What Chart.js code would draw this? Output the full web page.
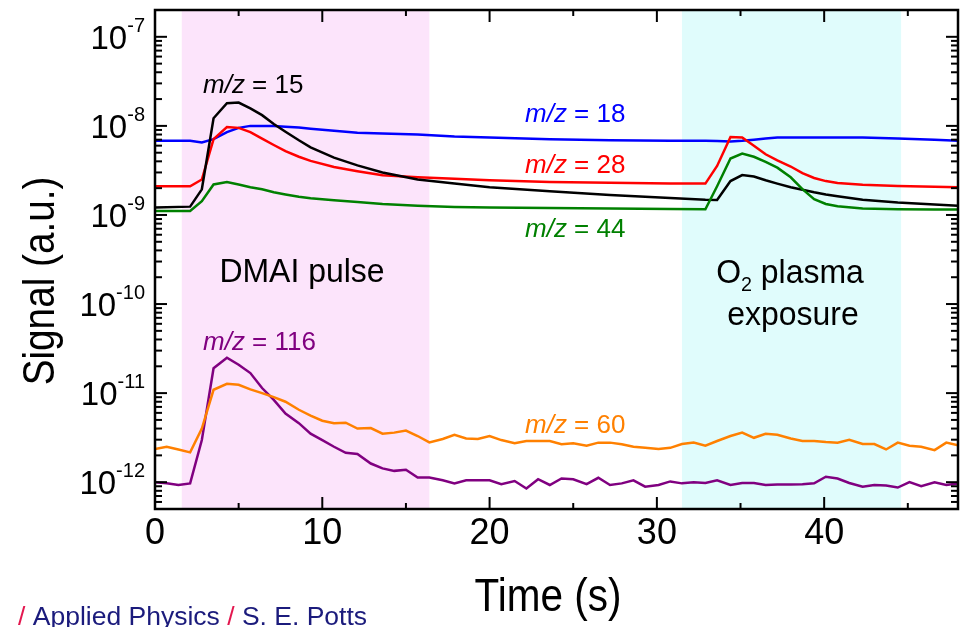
<!DOCTYPE html>
<html>
<head>
<meta charset="utf-8">
<script src="https://cdn.jsdelivr.net/npm/chart.js@4"></script>
<style>
  html, body { margin: 0; padding: 0; background: #fff; }
  canvas { display: block; }
</style>
</head>
<body>
<canvas id="myChart" width="970" height="627"></canvas>
<script>
// sampling grid of the QMS (about 0.72 s per scan)
const timeFast = [0, 0.7, 1.4, 2.1, 2.8, 3.5, 4.3, 5.0, 5.7, 6.4, 7.1, 7.8, 8.6, 9.3, 10.0, 10.7, 11.4, 12.1, 12.9, 13.6,
  14.3, 15.0, 15.7, 16.4, 17.2, 17.9, 18.6, 19.3, 20.0, 20.7, 21.5, 22.2, 22.9, 23.6, 24.3, 25.0, 25.8, 26.5, 27.2, 27.9,
  28.6, 29.3, 30.1, 30.8, 31.5, 32.2, 32.9, 33.6, 34.4, 35.1, 35.8, 36.5, 37.2, 38.0, 38.7, 39.4, 40.1, 40.8, 41.5, 42.3,
  43.0, 43.7, 44.4, 45.1, 45.8, 46.6, 47.3, 48.0];
const timeSlow = [0, 2.1, 2.8, 3.5, 4.3, 5.0, 5.7, 6.4, 7.1, 7.8, 8.6, 9.3, 10.7, 12.1, 13.6, 15.7, 17.9, 20.0, 23.6, 27.2,
  30.8, 32.9, 33.6, 34.4, 35.1, 35.8, 36.5, 37.2, 38.0, 38.7, 39.4, 40.1, 40.8, 42.3, 44.4, 46.6, 48.0];

const mz15 = [1.21e-9, 1.24e-9, 1.94e-9, 1.22e-8, 1.8e-8, 1.83e-8, 1.57e-8, 1.32e-8, 1.05e-8, 8.6e-9, 6.9e-9, 5.75e-9,
  4.4e-9, 3.6e-9, 3.0e-9, 2.5e-9, 2.25e-9, 2.05e-9, 1.85e-9, 1.68e-9, 1.55e-9, 1.48e-9, 1.47e-9, 2.4e-9, 2.8e-9, 2.7e-9,
  2.45e-9, 2.25e-9, 2.05e-9, 1.92e-9, 1.8e-9, 1.7e-9, 1.62e-9, 1.48e-9, 1.38e-9, 1.31e-9, 1.27e-9];
const mz18 = [6.8e-9, 6.8e-9, 6.5e-9, 7.1e-9, 8.5e-9, 9.5e-9, 1.0e-8, 1.0e-8, 1.0e-8, 9.8e-9, 9.6e-9, 9.3e-9, 8.8e-9,
  8.4e-9, 8.2e-9, 8.0e-9, 7.6e-9, 7.4e-9, 7.1e-9, 6.9e-9, 6.8e-9, 6.8e-9, 6.75e-9, 6.7e-9, 6.8e-9, 7.0e-9, 7.2e-9,
  7.4e-9, 7.4e-9, 7.4e-9, 7.4e-9, 7.4e-9, 7.4e-9, 7.4e-9, 7.2e-9, 7.0e-9, 6.8e-9];
const mz28 = [2.1e-9, 2.1e-9, 2.5e-9, 7.1e-9, 9.7e-9, 9.5e-9, 8.5e-9, 7.2e-9, 6.1e-9, 5.2e-9, 4.5e-9, 4.05e-9, 3.45e-9,
  3.1e-9, 2.8e-9, 2.65e-9, 2.55e-9, 2.45e-9, 2.35e-9, 2.3e-9, 2.25e-9, 2.25e-9, 3.55e-9, 7.5e-9, 7.4e-9, 6.0e-9, 4.8e-9,
  4.1e-9, 3.5e-9, 2.95e-9, 2.6e-9, 2.4e-9, 2.28e-9, 2.18e-9, 2.12e-9, 2.08e-9, 2.05e-9];
const mz44 = [1.11e-9, 1.11e-9, 1.43e-9, 2.2e-9, 2.35e-9, 2.2e-9, 2.05e-9, 1.94e-9, 1.8e-9, 1.7e-9, 1.6e-9, 1.54e-9,
  1.46e-9, 1.4e-9, 1.33e-9, 1.27e-9, 1.23e-9, 1.21e-9, 1.2e-9, 1.18e-9, 1.17e-9, 1.16e-9, 2.1e-9, 4.3e-9, 4.9e-9, 4.5e-9,
  3.95e-9, 3.4e-9, 2.65e-9, 1.95e-9, 1.5e-9, 1.33e-9, 1.25e-9, 1.18e-9, 1.16e-9, 1.15e-9, 1.15e-9];
const mz116 = [1.0e-12, 0.97e-12, 0.93e-12, 0.97e-12, 2.97e-12, 1.9e-11, 2.5e-11, 2.08e-11, 1.68e-11, 1.14e-11, 8.4e-12,
  5.9e-12, 4.6e-12, 3.5e-12, 2.97e-12, 2.5e-12, 2.14e-12, 2.07e-12, 1.62e-12, 1.43e-12, 1.34e-12, 1.38e-12, 1.13e-12,
  1.13e-12, 1.05e-12, 0.97e-12, 1.05e-12, 1.05e-12, 1.05e-12, 0.95e-12, 1.03e-12, 0.85e-12, 1.08e-12, 0.93e-12, 1.1e-12,
  1.08e-12, 0.95e-12, 1.12e-12, 0.93e-12, 0.97e-12, 1.05e-12, 0.89e-12, 0.93e-12, 1.02e-12, 0.97e-12, 1.0e-12, 0.98e-12,
  1.05e-12, 0.93e-12, 0.98e-12, 0.98e-12, 0.93e-12, 0.94e-12, 0.94e-12, 0.95e-12, 0.97e-12, 1.15e-12, 1.1e-12, 0.98e-12,
  0.89e-12, 0.93e-12, 0.92e-12, 0.87e-12, 1.0e-12, 0.9e-12, 1.0e-12, 0.93e-12, 0.97e-12];
const mz60 = [2.36e-12, 2.5e-12, 2.33e-12, 2.16e-12, 4.0e-12, 1.09e-11, 1.27e-11, 1.24e-11, 1.1e-11, 1.0e-11, 9.0e-12,
  8.0e-12, 6.5e-12, 5.6e-12, 4.9e-12, 4.6e-12, 4.65e-12, 4.0e-12, 4.05e-12, 3.5e-12, 3.6e-12, 3.8e-12, 3.3e-12, 2.8e-12,
  3.05e-12, 3.4e-12, 3.1e-12, 3.05e-12, 3.3e-12, 2.97e-12, 2.73e-12, 2.9e-12, 2.9e-12, 2.9e-12, 2.67e-12, 2.73e-12,
  2.56e-12, 2.78e-12, 2.78e-12, 2.67e-12, 2.5e-12, 2.43e-12, 2.36e-12, 2.43e-12, 2.68e-12, 2.78e-12, 2.57e-12, 2.9e-12,
  3.3e-12, 3.6e-12, 3.15e-12, 3.5e-12, 3.4e-12, 3.1e-12, 2.9e-12, 2.9e-12, 2.82e-12, 2.78e-12, 3.0e-12, 2.68e-12,
  2.68e-12, 2.33e-12, 2.78e-12, 2.57e-12, 2.5e-12, 2.29e-12, 2.78e-12, 2.6e-12];

const massNumbers = ['15', '18', '28', '44', '116', '60'];
const xTickValues = [0, 10, 20, 30, 40];
const yDecades = [-12, -11, -10, -9, -8, -7];
const dmaiWindow = [1.6, 16.4];
const plasmaWindow = [31.5, 44.6];

const FONT = "'Liberation Sans', Arial, Helvetica, sans-serif";
const COLORS = { '15': '#000000', '18': '#0000ff', '28': '#ff0000', '44': '#008000', '116': '#800080', '60': '#ff8000' };

function pts(t, v) {
  return t.map((x, i) => ({ x: x, y: v[i] }));
}

function line(ctx, x0, y0, x1, y1) {
  ctx.beginPath();
  ctx.moveTo(x0, y0);
  ctx.lineTo(x1, y1);
  ctx.stroke();
}

function textWidth(ctx, str, size, style) {
  ctx.save();
  ctx.font = (style || '') + ' ' + size + 'px ' + FONT;
  const w = ctx.measureText(str).width;
  ctx.restore();
  return w;
}

// text drawn with an optional horizontal squeeze, like the original slide
function say(ctx, str, x, y, size, color, align, sx, style) {
  ctx.save();
  ctx.font = (style || '') + ' ' + size + 'px ' + FONT;
  ctx.fillStyle = color;
  ctx.textAlign = align || 'left';
  ctx.textBaseline = 'alphabetic';
  ctx.translate(x, y);
  ctx.scale(sx || 1, 1);
  ctx.fillText(str, 0, 0);
  ctx.restore();
}

// "m/z = 15" style label, m/z in italics
function mzLabel(ctx, mass, x, y) {
  const color = COLORS[mass];
  const w = textWidth(ctx, 'm/z', 26, 'italic');
  say(ctx, 'm/z', x, y, 26, color, 'left', 1, 'italic');
  say(ctx, ' = ' + mass, x + w, y, 26, color, 'left', 1);
}

const decor = {
  id: 'decor',
  beforeDatasetsDraw(chart) {
    const { ctx, chartArea: a, scales: { x } } = chart;
    ctx.save();
    ctx.fillStyle = '#fce4fb';
    let x0 = x.getPixelForValue(dmaiWindow[0]), x1 = x.getPixelForValue(dmaiWindow[1]);
    ctx.fillRect(x0, a.top, x1 - x0, a.bottom - a.top);
    ctx.fillStyle = '#e0fcfc';
    x0 = x.getPixelForValue(plasmaWindow[0]);
    x1 = x.getPixelForValue(plasmaWindow[1]);
    ctx.fillRect(x0, a.top, x1 - x0, a.bottom - a.top);
    ctx.restore();
  },
  afterDatasetsDraw(chart) {
    const { ctx, chartArea: a, scales: { x, y } } = chart;
    ctx.save();
    ctx.strokeStyle = '#000';
    ctx.lineWidth = 2;

    // inward ticks, all four sides
    for (let t = 0; t <= x.max; t += 5) {
      const px = x.getPixelForValue(t);
      const len = t % 10 === 0 ? 12 : 6;
      line(ctx, px, a.bottom, px, a.bottom - len);
      line(ctx, px, a.top, px, a.top + len);
    }
    for (let e = -13; e <= -7; e++) {
      for (let k = 1; k <= 9; k++) {
        const v = k * Math.pow(10, e);
        if (v < y.min || v > y.max) continue;
        const py = y.getPixelForValue(v);
        const len = k === 1 ? 12 : 7;
        line(ctx, a.left, py, a.left + len, py);
        line(ctx, a.right, py, a.right - len, py);
      }
    }
    ctx.lineWidth = 2.5;
    ctx.strokeRect(a.left, a.top, a.right - a.left, a.bottom - a.top);
    ctx.restore();

    // y tick labels 10^n
    yDecades.forEach(d => {
      const py = y.getPixelForValue(Math.pow(10, d));
      const exp = '-' + String(-d);
      const ew = textWidth(ctx, exp, 20);
      const right = a.left - 10;
      say(ctx, exp, right, py - 5, 20, '#000', 'right');
      say(ctx, '10', right - ew, py + 12, 33, '#000', 'right');
    });

    // series labels
    mzLabel(ctx, massNumbers[0], 203, 93);
    mzLabel(ctx, massNumbers[1], 525, 122);
    mzLabel(ctx, massNumbers[2], 525, 173);
    mzLabel(ctx, massNumbers[3], 525, 237);
    mzLabel(ctx, massNumbers[4], 203, 350);
    mzLabel(ctx, massNumbers[5], 525, 433);

    // step labels
    say(ctx, 'DMAI pulse', 302, 282, 34, '#000', 'center', 0.94);
    const wO = textWidth(ctx, 'O', 34) * 0.94;
    const wRest = textWidth(ctx, ' plasma', 34) * 0.94;
    const w2 = textWidth(ctx, '2', 21) * 0.94;
    const lineStart = 790 - (wO + w2 + wRest) / 2;
    say(ctx, 'O', lineStart, 283, 34, '#000', 'left', 0.94);
    say(ctx, '2', lineStart + wO, 291, 21, '#000', 'left', 0.94);
    say(ctx, ' plasma', lineStart + wO + w2, 283, 34, '#000', 'left', 0.94);
    say(ctx, 'exposure', 793, 325, 34, '#000', 'center', 0.94);

    // axis titles
    ctx.save();
    ctx.translate(54, 281);
    ctx.rotate(-Math.PI / 2);
    say(ctx, 'Signal (a.u.)', 0, 0, 45, '#000', 'center', 0.86);
    ctx.restore();
    say(ctx, 'Time (s)', 548, 611, 46, '#000', 'center', 0.88);

    // footer
    let fx = 18;
    const parts = [['/', '#e3174f'], [' Applied Physics ', '#1b1b7c'], ['/', '#e3174f'], [' S. E. Potts', '#1b1b7c']];
    parts.forEach(p => {
      say(ctx, p[0], fx, 625, 26.5, p[1]);
      fx += textWidth(ctx, p[0], 26.5);
    });
  }
};

function ds(mass, t, v) {
  return {
    label: 'm/z = ' + mass,
    data: pts(t, v),
    borderColor: COLORS[mass],
    borderWidth: 2.5,
    pointRadius: 0,
    fill: false,
    tension: 0
  };
}

new Chart('myChart', {
  type: 'line',
  data: {
    datasets: [
      ds('60', timeFast, mz60),
      ds('116', timeFast, mz116),
      ds('44', timeSlow, mz44),
      ds('15', timeSlow, mz15),
      ds('28', timeSlow, mz28),
      ds('18', timeSlow, mz18)
    ]
  },
  options: {
    responsive: false,
    animation: false,
    layout: { padding: { left: 0, top: 10, right: 12, bottom: 0 } },
    plugins: { legend: { display: false }, tooltip: { enabled: false } },
    scales: {
      x: {
        type: 'linear',
        min: 0,
        max: 48,
        grid: { display: false, drawTicks: false },
        border: { display: false },
        afterBuildTicks: s => { s.ticks = xTickValues.map(v => ({ value: v })); },
        ticks: { color: '#000', font: { family: FONT, size: 36 }, padding: 3, maxRotation: 0 },
        afterFit: s => { s.height = 118; }
      },
      y: {
        type: 'logarithmic',
        min: 5e-13,
        max: 2e-7,
        grid: { display: false, drawTicks: false },
        border: { display: false },
        ticks: { display: false },
        afterFit: s => { s.width = 155; }
      }
    }
  },
  plugins: [decor]
});
</script>
</body>
</html>
